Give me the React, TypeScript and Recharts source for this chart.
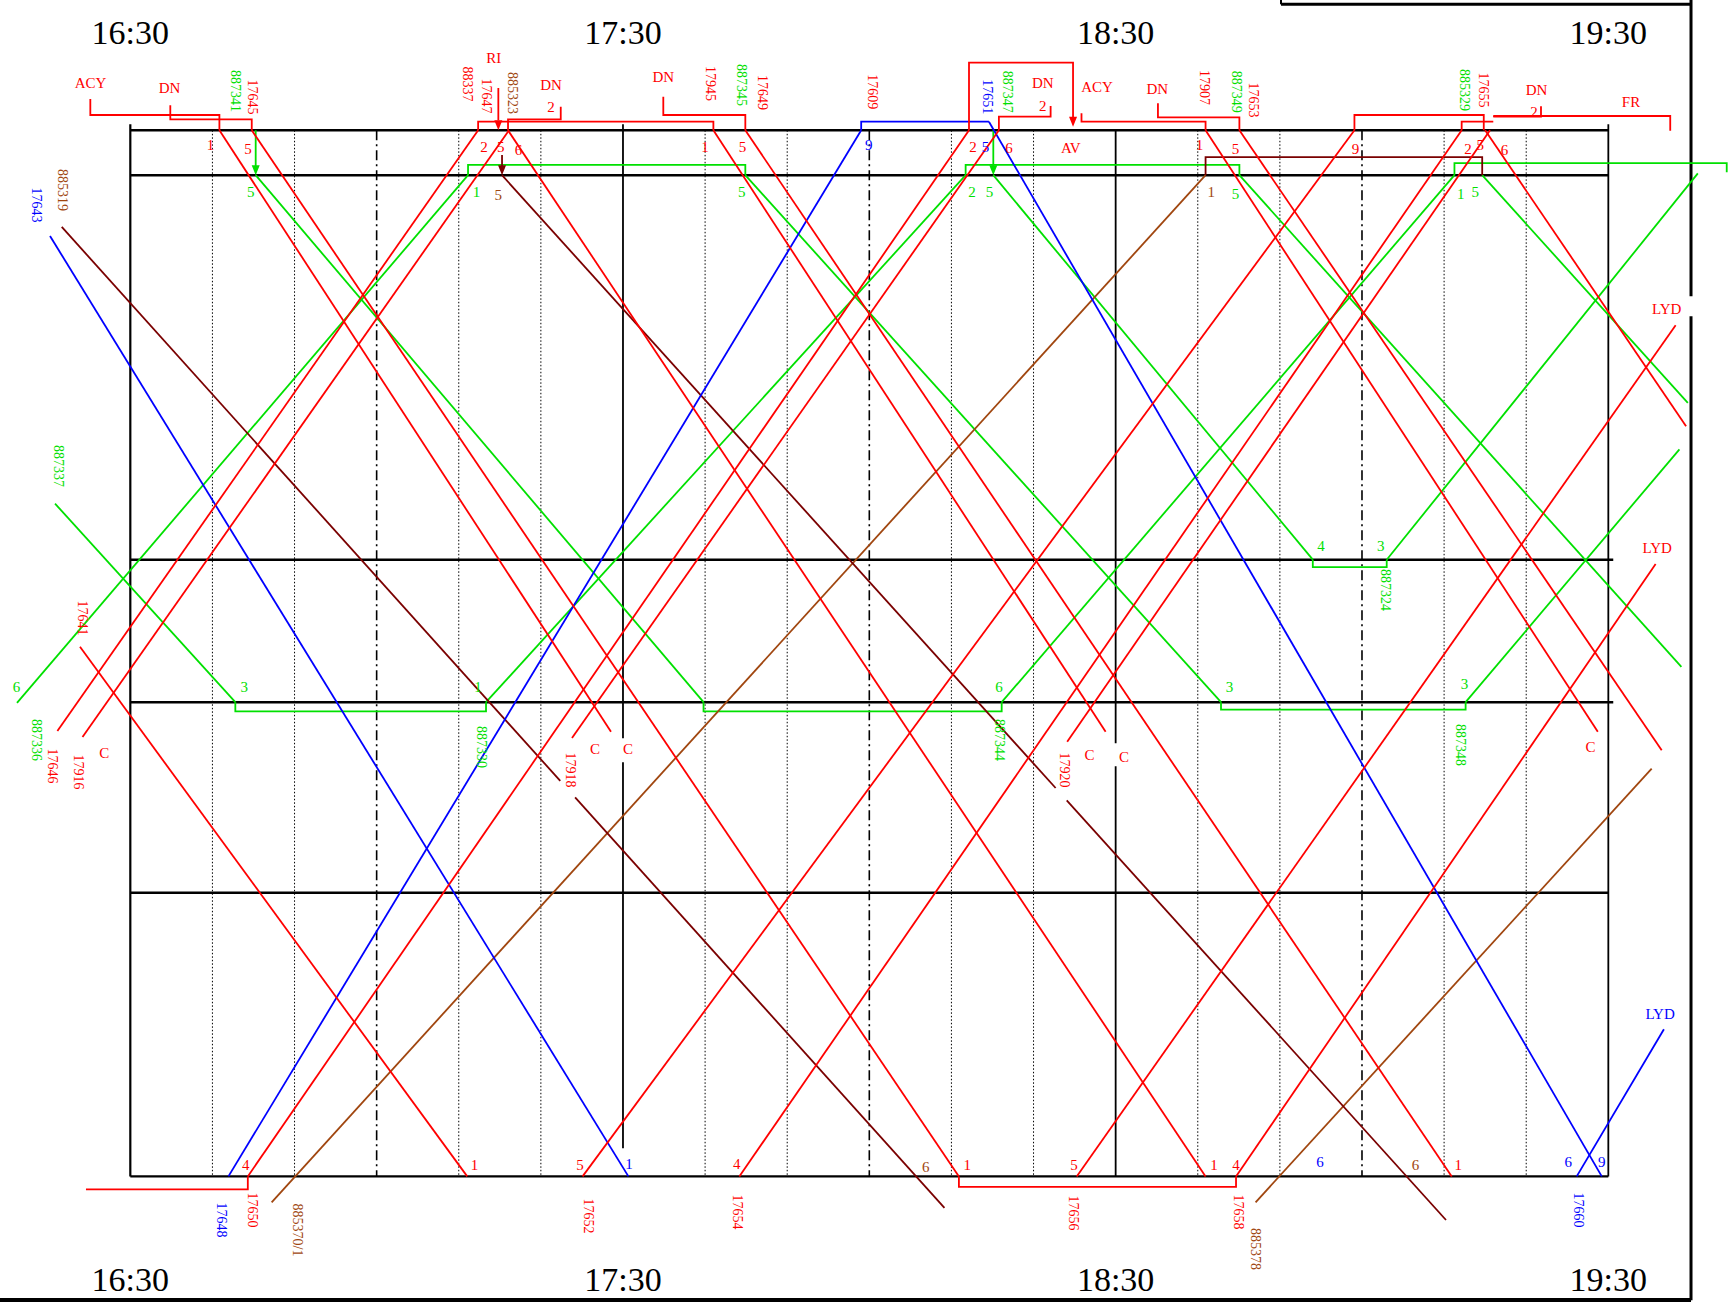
import React from 'react';
import { ComposedChart, Line, Scatter, XAxis, YAxis } from 'recharts';

const WIDTH = 1731;
const HEIGHT = 1304;

// x: minutes after 16:30, y: distance (km) from the top station
const TIME_DOMAIN: [number, number] = [-15.87, 194.94];
const DIST_DOMAIN: [number, number] = [-13.03, 117.37];

const STATIONS = [0, 4.49, 42.94, 57.19, 76.24, 104.61];
const HOUR_MARKS = [0, 60, 120, 180];
const HOUR_LABELS = ['16:30', '17:30', '18:30', '19:30'];
const DASHDOT_MARKS = [30, 90, 150];
const DOTTED_MARKS = [10, 20, 40, 50, 70, 80, 100, 110, 130, 140, 160, 170];

type P = [number, number];

const RED_RUNS: P[][] = [
  [[-6.13, 51.65], [41.03, 104.61]], // 17641
  [[-8.88, 60.07], [42.36, 0]], // 17646
  [[-5.82, 60.67], [46.12, 0]], // 17916
  [[10.85, 0], [58.54, 60.14]],
  [[14.79, 0], [100.91, 104.61]], // 17645
  [[46.0, 0], [130.95, 104.61]],
  [[71.01, 0], [118.78, 60.14]], // 17945
  [[74.9, 0], [160.93, 104.61]], // 17649
  [[14.31, 104.61], [102.14, 0]], // 17650
  [[53.79, 60.77], [105.78, 0]],
  [[55.08, 104.61], [149.08, 0]], // 17652
  [[74.17, 104.61], [162.14, 0]], // 17654
  [[130.95, 0], [178.72, 60.14]], // 17907
  [[135.07, 0], [186.5, 61.99]], // 17653
  [[114.1, 61.14], [165.59, 0]],
  [[165.0, 0], [189.47, 29.59]], // 17655
  [[115.26, 104.61], [188.2, 19.49]], // 17656
  [[134.66, 104.61], [185.76, 43.38]], // 17658
];

const RED_LINKS: P[][] = [
  [[-4.87, -3.13], [-4.87, -1.53], [10.85, -1.53], [10.85, 0]],
  [[4.87, -2.5], [4.87, -1.1], [14.79, -1.1], [14.79, 0]],
  [[42.36, 0], [42.36, -0.86], [71.01, -0.86], [71.01, 0]],
  [[46.0, 0], [46.0, -1.1], [52.42, -1.1], [52.42, -2.36]],
  [[64.91, -3.36], [64.91, -1.53], [74.9, -1.53], [74.9, 0]],
  [[102.14, 0], [102.14, -6.76], [114.81, -6.76], [114.81, -1.0]],
  [[105.78, 0], [105.78, -1.36], [112.08, -1.36], [112.08, -2.43]],
  [[115.84, -1.7], [115.84, -0.86], [130.95, -0.86], [130.95, 0]],
  [[125.15, -2.7], [125.15, -1.3], [135.07, -1.3], [135.07, 0]],
  [[149.08, 0], [149.08, -1.53], [164.83, -1.53], [164.83, 0]],
  [[162.14, 0], [162.14, -0.86], [165.99, -0.86]],
  [[165.99, -1.36], [171.8, -1.36], [171.8, -2.4]],
  [[165.99, -1.43], [187.54, -1.43], [187.54, 0.04]],
  [[14.31, 104.61], [14.31, 105.91], [-5.4, 105.91]],
  [[100.91, 104.61], [100.91, 105.65], [134.66, 105.65], [134.66, 104.61]],
  [[44.82, -4.23], [44.82, -1.0]],
];

const GREEN_RUNS: P[][] = [
  [[-13.8, 57.25], [41.13, 4.49]], // 887336
  [[74.9, 4.49], [132.83, 57.19]], // 887345
  [[162.62, 57.19], [188.66, 31.9]], // 887348
  [[-9.17, 37.33], [12.79, 57.19]], // 887337
  [[43.32, 57.19], [101.73, 4.49]], // 887330
  [[135.07, 4.49], [188.9, 53.65]], // 887349
  [[15.27, 4.49], [69.81, 57.19]], // 887341
  [[106.12, 57.19], [161.26, 4.49]], // 887344
  [[105.1, 4.49], [144.01, 42.94]], // 887347
  [[153.01, 42.94], [190.9, 4.31]], // 887324
  [[164.64, 4.49], [189.68, 27.25]], // 885329
];

const GREEN_LINKS: P[][] = [
  [[41.13, 4.49], [41.13, 3.45], [74.9, 3.45], [74.9, 4.49]],
  [[132.83, 57.19], [132.83, 57.93], [162.62, 57.93], [162.62, 57.19]],
  [[12.79, 57.19], [12.79, 58.11], [43.32, 58.11], [43.32, 57.19]],
  [[101.73, 4.49], [101.73, 3.45], [135.07, 3.45], [135.07, 4.49]],
  [[69.81, 57.19], [69.81, 58.11], [106.12, 58.11], [106.12, 57.19]],
  [[161.26, 4.49], [161.26, 3.28], [194.42, 3.28], [194.42, 4.2]],
  [[144.01, 42.94], [144.01, 43.69], [153.01, 43.69], [153.01, 42.94]],
  [[15.27, 0], [15.27, 3.6]],
  [[105.1, 0], [105.1, 3.6]],
];

const BLUE_RUNS: P[][] = [
  [[-9.78, 10.57], [60.66, 104.61]], // 17643
  [[11.95, 104.61], [89.01, 0]], // 17648
  [[104.57, -0.86], [179.2, 104.61]], // 17651
  [[176.15, 104.61], [186.77, 89.89]], // 17660
];
const BLUE_LINKS: P[][] = [[[89.01, 0], [89.01, -0.86], [104.57, -0.86]]];

const MAROON_RUNS: P[][] = [
  [[-8.35, 9.66], [52.36, 65.06]], // 885319
  [[54.17, 66.71], [99.15, 107.76]], // 17918
  [[45.27, 4.49], [112.69, 65.77]], // 885323
  [[114.04, 67.0], [160.23, 108.97]], // 17920
];
const MAROON_LINKS: P[][] = [
  [[45.27, 2.47], [45.27, 3.6]],
  [[130.95, 4.49], [130.95, 2.69], [164.64, 2.69], [164.64, 4.49]],
];

const BROWN_RUNS: P[][] = [
  [[17.21, 107.2], [130.95, 4.49]], // 885370/1
  [[137.04, 107.2], [185.28, 63.84]], // 885378
];

type L = [number, number, string, string];

const TRACK_LABELS: L[] = [
  [9.77, 1.47, '1', 'r'], [14.33, 1.87, '5', 'r'], [14.66, 6.14, '5', 'g'],
  [43.08, 1.64, '2', 'r'], [45.1, 1.64, '5', 'r'], [47.29, 1.97, '6', 'r'], [42.16, 6.14, '1', 'g'], [44.82, 6.47, '5', 'n'],
  [69.99, 1.64, '1', 'r'], [74.56, 1.64, '5', 'r'], [74.47, 6.14, '5', 'g'],
  [89.94, 1.47, '9', 'b'], [102.62, 1.64, '2', 'r'], [104.15, 1.64, '5', 'b'], [102.51, 6.14, '2', 'g'], [104.63, 6.14, '5', 'g'], [107.01, 1.8, '6', 'r'],
  [130.2, 1.47, '1', 'r'], [134.59, 1.9, '5', 'r'], [131.64, 6.14, '1', 'n'], [134.59, 6.37, '5', 'g'],
  [149.22, 1.9, '9', 'r'], [162.91, 1.9, '2', 'r'], [164.41, 1.47, '5', 'r'], [167.36, 1.97, '6', 'r'], [162.02, 6.37, '1', 'g'], [163.8, 6.14, '5', 'g'],
  [145.01, 41.56, '4', 'g'], [152.27, 41.56, '3', 'g'],
  [13.88, 55.71, '3', 'g'], [42.35, 55.71, '1', 'g'], [105.78, 55.71, '6', 'g'], [133.85, 55.71, '3', 'g'], [162.48, 55.34, '3', 'g'], [-13.85, 55.64, '6', 'g'],
  [14.07, 103.5, '4', 'r'], [41.93, 103.5, '1', 'r'], [54.77, 103.5, '5', 'r'], [60.72, 103.32, '1', 'b'], [73.86, 103.32, '4', 'r'],
  [96.86, 103.67, '6', 'n'], [101.92, 103.5, '1', 'r'], [114.92, 103.5, '5', 'r'], [131.97, 103.5, '1', 'r'], [134.66, 103.5, '4', 'r'],
  [144.89, 103.13, '6', 'b'], [156.53, 103.5, '6', 'n'], [161.73, 103.5, '1', 'r'], [175.13, 103.13, '6', 'b'], [179.2, 103.13, '9', 'b'],
  [51.24, -2.36, '2', 'r'], [111.12, -2.43, '2', 'r'], [170.95, -1.86, '2', 'r'],
];

const PLACE_LABELS: L[] = [
  [-4.85, -4.73, 'ACY', 'r'], [4.77, -4.2, 'DN', 'r'], [44.26, -7.2, 'RI', 'r'], [51.24, -4.53, 'DN', 'r'],
  [64.91, -5.36, 'DN', 'r'], [111.12, -4.7, 'DN', 'r'], [117.73, -4.3, 'ACY', 'r'], [125.07, -4.1, 'DN', 'r'],
  [171.25, -4.03, 'DN', 'r'], [182.76, -2.86, 'FR', 'r'], [114.54, 1.8, 'AV', 'r'],
  [187.11, 17.87, 'LYD', 'r'], [185.96, 41.73, 'LYD', 'r'], [186.3, 88.34, 'LYD', 'b'],
  [-3.17, 62.23, 'C', 'r'], [56.59, 61.87, 'C', 'r'], [60.61, 61.87, 'C', 'r'],
  [116.81, 62.44, 'C', 'r'], [121.01, 62.62, 'C', 'r'], [177.84, 61.7, 'C', 'r'],
];

const TRAIN_LABELS: L[] = [
  [12.87, -3.93, '887341', 'g'], [14.89, -3.33, '17645', 'r'], [41.09, -4.63, '88337', 'r'],
  [43.42, -3.43, '17647', 'r'], [46.58, -3.73, '885323', 'n'], [70.6, -4.68, '17945', 'r'],
  [74.47, -4.53, '887345', 'g'], [77.03, -3.78, '17649', 'r'], [90.4, -3.86, '17609', 'r'],
  [104.38, -3.36, '17651', 'b'], [106.81, -3.86, '887347', 'g'], [130.76, -4.28, '17907', 'r'],
  [134.72, -3.86, '887349', 'g'], [136.78, -3.03, '17653', 'r'], [162.43, -4.03, '885329', 'g'],
  [164.74, -4.03, '17655', 'r'], [-11.4, 7.47, '17643', 'b'], [-8.2, 5.97, '885319', 'n'],
  [-8.77, 33.57, '887337', 'g'], [-5.8, 48.77, '17641', 'r'], [-11.48, 60.97, '887336', 'g'],
  [-9.45, 63.57, '17646', 'r'], [-6.28, 64.17, '17916', 'r'], [42.83, 61.67, '887330', 'g'],
  [53.55, 63.97, '17918', 'r'], [105.8, 60.97, '887344', 'g'], [113.71, 63.97, '17920', 'r'],
  [161.94, 61.47, '887348', 'g'], [152.81, 45.97, '887324', 'g'], [11.05, 108.97, '17648', 'b'],
  [14.82, 107.97, '17650', 'r'], [20.42, 109.97, '885370/1', 'n'], [55.86, 108.57, '17652', 'r'],
  [73.95, 108.17, '17654', 'r'], [114.81, 108.27, '17656', 'r'], [134.9, 108.17, '17658', 'r'],
  [137.09, 111.87, '885378', 'n'], [176.31, 107.97, '17660', 'b'],
];

const ARROW_TIPS: L[] = [
  [15.27, 4.49, '', 'g'], [105.1, 4.49, '', 'g'], [45.27, 4.49, '', 'm'], [44.82, 0, '', 'r'], [114.81, -0.36, '', 'r'],
];

const COLORS: Record<string, string> = {
  r: '#ff0000', g: '#00e000', b: '#0000ff', m: '#7a0000', n: '#a0460f', k: '#000000',
};

const FONT = "'Liberation Serif', 'Times New Roman', serif";

let keyCounter = 0;
const seg = (pts: P[], color: string, width: number, dash?: string) => (
  <Line
    key={`s${keyCounter++}`}
    data={pts.map(([t, d]) => ({ t, d }))}
    dataKey="d"
    type="linear"
    stroke={color}
    strokeWidth={width}
    strokeDasharray={dash}
    dot={false}
    activeDot={false}
    isAnimationActive={false}
    legendType="none"
  />
);

const TextShape = (props: any) => {
  const { cx, cy, payload } = props;
  if (cx == null || cy == null) return <g />;
  return (
    <text
      x={cx}
      y={cy}
      fill={payload.c}
      fontSize={payload.s}
      fontFamily={FONT}
      textAnchor="middle"
      dominantBaseline="central"
      transform={payload.r ? `rotate(90 ${cx} ${cy})` : undefined}
    >
      {payload.txt}
    </text>
  );
};

const ArrowShape = (props: any) => {
  const { cx, cy, payload } = props;
  if (cx == null || cy == null) return <g />;
  return <polygon points={`${cx - 4},${cy - 10} ${cx + 4},${cy - 10} ${cx},${cy}`} fill={payload.c} />;
};

export default function App() {
  keyCounter = 0;
  const toText = (arr: L[], size: number, rot: boolean) =>
    arr.map(([t, d, txt, c]) => ({ t, d, txt, c: COLORS[c], s: size, r: rot }));

  const timeLabels = [
    ...HOUR_MARKS.map((t, i) => ({ t, d: -9.83, txt: HOUR_LABELS[i], c: '#000', s: 34, r: false })),
    ...HOUR_MARKS.map((t, i) => ({ t, d: 114.87, txt: HOUR_LABELS[i], c: '#000', s: 34, r: false })),
  ];
  const textData = [
    ...timeLabels,
    ...toText(TRACK_LABELS, 15, false),
    ...toText(PLACE_LABELS, 15, false),
    ...toText(TRAIN_LABELS, 14, true),
  ];
  const arrowData = ARROW_TIPS.map(([t, d, , c]) => ({ t, d, c: COLORS[c] }));

  const K = COLORS.k;
  const grid: React.ReactNode[] = [];
  DOTTED_MARKS.forEach((t) => grid.push(seg([[t, 0], [t, STATIONS[5]]], K, 1, '1.5 2')));
  DASHDOT_MARKS.forEach((t) => grid.push(seg([[t, 0], [t, STATIONS[5]]], K, 1.6, '10 4 2 4')));
  STATIONS.forEach((d, i) => grid.push(seg([[0, d], [i === 2 || i === 3 ? 180.6 : 180, d]], K, 2.4)));
  grid.push(seg([[HOUR_MARKS[0], -0.6], [HOUR_MARKS[0], STATIONS[5]]], K, 2.2));
  grid.push(seg([[HOUR_MARKS[1], -0.6], [HOUR_MARKS[1], 60.8]], K, 1.8));
  grid.push(seg([[HOUR_MARKS[1], 63.2], [HOUR_MARKS[1], 101.8]], K, 1.8));
  grid.push(seg([[HOUR_MARKS[2], 0], [HOUR_MARKS[2], 61.3]], K, 1.8));
  grid.push(seg([[HOUR_MARKS[2], 63.6], [HOUR_MARKS[2], STATIONS[5]]], K, 1.8));
  grid.push(seg([[HOUR_MARKS[3], -0.6], [HOUR_MARKS[3], STATIONS[5]]], K, 1.8));
  // outer frame
  grid.push(seg([[190.07, -13.03], [190.07, 16.6]], K, 3));
  grid.push(seg([[190.07, 18.6], [190.07, 117.0]], K, 3));
  grid.push(seg([[-15.87, 116.97], [190.07, 116.97]], K, 4));
  grid.push(seg([[140.14, -12.6], [190.07, -12.6]], K, 3));
  grid.push(seg([[140.14, -13.03], [140.14, -12.6]], K, 2));

  const trains: React.ReactNode[] = [];
  GREEN_RUNS.forEach((p) => trains.push(seg(p, COLORS.g, 1.8)));
  GREEN_LINKS.forEach((p) => trains.push(seg(p, COLORS.g, 1.8)));
  BROWN_RUNS.forEach((p) => trains.push(seg(p, COLORS.n, 1.8)));
  MAROON_RUNS.forEach((p) => trains.push(seg(p, COLORS.m, 1.8)));
  MAROON_LINKS.forEach((p) => trains.push(seg(p, COLORS.m, 1.8)));
  BLUE_RUNS.forEach((p) => trains.push(seg(p, COLORS.b, 1.8)));
  BLUE_LINKS.forEach((p) => trains.push(seg(p, COLORS.b, 1.8)));
  RED_RUNS.forEach((p) => trains.push(seg(p, COLORS.r, 1.8)));
  RED_LINKS.forEach((p) => trains.push(seg(p, COLORS.r, 1.8)));

  return (
    <div style={{ position: 'absolute', left: 0, top: 0, width: WIDTH, height: HEIGHT, background: '#fff' }}>
      <ComposedChart width={WIDTH} height={HEIGHT} margin={{ top: 0, right: 0, bottom: 0, left: 0 }}>
        <XAxis type="number" dataKey="t" domain={TIME_DOMAIN} allowDataOverflow hide />
        <YAxis type="number" dataKey="d" domain={DIST_DOMAIN} allowDataOverflow reversed hide />
        {grid}
        {trains}
        <Scatter data={arrowData} shape={ArrowShape} isAnimationActive={false} legendType="none" />
        <Scatter data={textData} shape={TextShape} isAnimationActive={false} legendType="none" />
      </ComposedChart>
    </div>
  );
}
